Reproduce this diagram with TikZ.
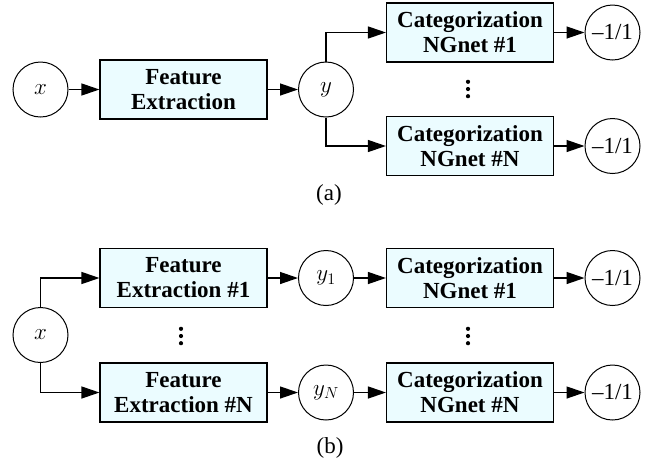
\RequirePackage{fix-cm}
\documentclass[tikz,border=0pt]{standalone}
\usepackage{fontspec}
\setmainfont{Liberation Serif}
\usetikzlibrary{arrows.meta}
\definecolor{boxfill}{RGB}{235,252,255}
\begin{document}
\begin{tikzpicture}[x=1pt,y=-1pt,
  circ/.style={circle, draw, line width=1pt, minimum size=55pt, inner sep=0pt,
    font=\fontsize{23}{25}\selectfont},
  blk/.style={draw, line width=1.1pt, fill=boxfill, minimum width=167pt, minimum height=59pt,
    inner sep=0pt, align=center, font=\fontsize{23}{25}\selectfont\bfseries},
  flow/.style={-{Triangle[length=18pt,width=12pt]}, line width=1.3pt},
  caption/.style={inner sep=0pt, font=\fontsize{23}{25}\selectfont},
  vellipsis/.pic={\foreach \k in {-7.2,0,7.2} \fill (0,\k) circle (2.1pt);}]
\useasboundingbox (0,0) rectangle (645,459);

% (a) shared feature extraction
\node[circ] (xa) at (40.5,89.5) {$x$};
\node[blk] (fea) at (183.5,89.5) {Feature\\Extraction};
\node[circ] (ya) at (326,89.5) {$y$};
\node[blk] (ca1) at (470,32.5) {Categorization\\NGnet \#1};
\node[blk] (caN) at (470,146) {Categorization\\NGnet \#N};
\node[circ] (oa1) at (612.5,32.5) {--1/1};
\node[circ] (oaN) at (612.5,146) {--1/1};
\pic at (468,89) {vellipsis};
\node[caption] (la) at (329,195) {(a)};

\draw[flow] (xa) -- (fea);
\draw[flow] (fea) -- (ya);
\draw[flow] (ya.north) |- (ca1.west);
\draw[flow] (ya.south) |- (caN.west);
\draw[flow] (ca1) -- (oa1);
\draw[flow] (caN) -- (oaN);

% (b) separate feature extraction per network
\node[circ] (xb) at (40.5,335) {$x$};
\node[blk] (fe1) at (183.5,278) {Feature\\Extraction \#1};
\node[blk] (feN) at (183.5,392.5) {Feature\\Extraction \#N};
\node[circ] (y1) at (326,278) {$y_1$};
\node[circ] (yN) at (326,392.5) {$y_N$};
\node[blk] (cb1) at (470,278) {Categorization\\NGnet \#1};
\node[blk] (cbN) at (470,392.5) {Categorization\\NGnet \#N};
\node[circ] (ob1) at (612.5,278) {--1/1};
\node[circ] (obN) at (612.5,392.5) {--1/1};
\pic at (181,336) {vellipsis};
\pic at (468,336) {vellipsis};
\node[caption] (lb) at (330,448) {(b)};

\draw[flow] (xb.north) |- (fe1.west);
\draw[flow] (xb.south) |- (feN.west);
\draw[flow] (fe1) -- (y1);
\draw[flow] (feN) -- (yN);
\draw[flow] (y1) -- (cb1);
\draw[flow] (yN) -- (cbN);
\draw[flow] (cb1) -- (ob1);
\draw[flow] (cbN) -- (obN);
\end{tikzpicture}
\end{document}
